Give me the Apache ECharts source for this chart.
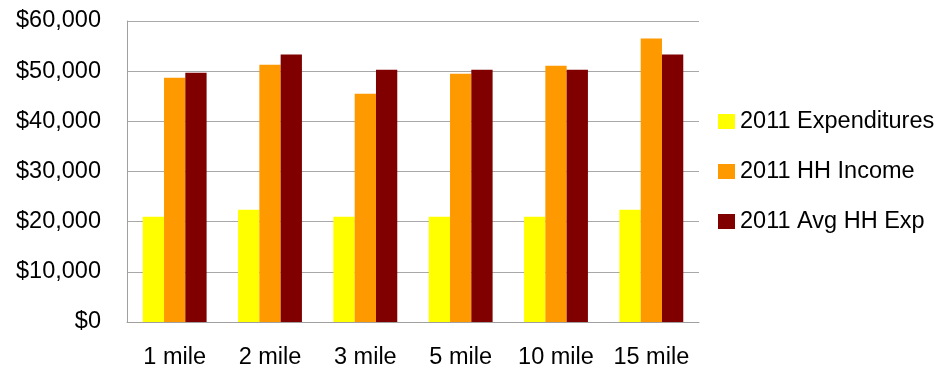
<!DOCTYPE html>
<html>
<head>
<meta charset="utf-8">
<script src="https://cdn.jsdelivr.net/npm/echarts@6/dist/echarts.min.js"></script>
<style>
html,body{margin:0;padding:0;background:#fff;}
#chart{width:949px;height:374px;}
</style>
</head>
<body>
<div id="chart"></div>
<script>
var categories = ['1 mile', '2 mile', '3 mile', '5 mile', '10 mile', '15 mile'];
var expenditures = [21000, 22400, 21000, 21000, 21000, 22400];
var hhIncome = [48700, 51300, 45500, 49500, 51100, 56500];
var avgHHExp = [49700, 53300, 50300, 50300, 50300, 53300];
var seriesNames = ['2011 Expenditures', '2011 HH Income', '2011 Avg HH Exp'];
var yTicks = [0, 10000, 20000, 30000, 40000, 50000, 60000];

var chart = echarts.init(document.getElementById('chart'), null, {renderer: 'canvas'});
var font = '"Liberation Sans", Arial, sans-serif';
chart.setOption({
  animation: false,
  backgroundColor: '#ffffff',
  grid: {left: 127, right: 250, top: 21, bottom: 52, containLabel: false},
  legend: {
    orient: 'vertical',
    left: 713,
    top: 104,
    itemWidth: 17,
    itemHeight: 15,
    itemGap: 25,
    icon: 'rect',
    textStyle: {fontFamily: font, fontSize: 23.5, color: '#000', lineHeight: 25},
    data: seriesNames
  },
  xAxis: {
    type: 'category',
    data: categories,
    axisLine: {lineStyle: {color: '#a0a0a0', width: 1}},
    axisTick: {show: false},
    axisLabel: {interval: 0, fontFamily: font, fontSize: 23.5, color: '#000', margin: 24}
  },
  yAxis: {
    type: 'value',
    min: yTicks[0],
    max: yTicks[yTicks.length - 1],
    interval: yTicks[1] - yTicks[0],
    axisLine: {show: true, lineStyle: {color: '#a0a0a0'}},
    axisTick: {show: false},
    splitLine: {lineStyle: {color: '#a8a8a8', width: 1}},
    axisLabel: {
      fontFamily: font, fontSize: 23.5, color: '#000', margin: 26,
      formatter: function (v) { return '$' + v.toLocaleString('en-US'); }
    }
  },
  series: [
    {name: seriesNames[0], type: 'bar', data: expenditures, itemStyle: {color: '#FFFF00'}, barGap: '0%', barCategoryGap: '33%'},
    {name: seriesNames[1], type: 'bar', data: hhIncome, itemStyle: {color: '#FF9900'}, barGap: '0%', barCategoryGap: '33%'},
    {name: seriesNames[2], type: 'bar', data: avgHHExp, itemStyle: {color: '#800000'}, barGap: '0%', barCategoryGap: '33%'}
  ]
});
</script>
</body>
</html>
